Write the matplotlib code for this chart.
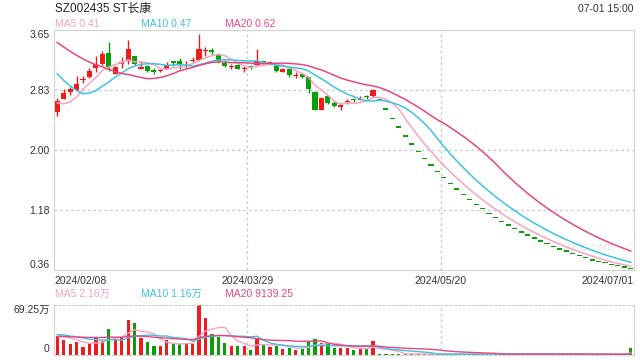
import pandas as pd
import matplotlib
matplotlib.use('Agg')
import matplotlib.pyplot as plt

plt.rcParams['font.family'] = ['Liberation Sans', 'Noto Sans CJK SC', 'DejaVu Sans']

title = 'SZ002435 ST长康'
stamp = '07-01 15:00'
date_labels = ['2024/02/08', '2024/03/29', '2024/05/20', '2024/07/01']
price_ticks = [3.65, 2.83, 2.00, 1.18, 0.36]
price_legend = ['MA5 0.41', 'MA10 0.47', 'MA20 0.62']
vol_legend = ['MA5 2.16万', 'MA10 1.16万', 'MA20 9139.25']
vol_top_label = '69.25万'

# closes of the 19 sessions before the window (only used to seed the MAs)
prior_close = [4.05, 4.02, 4.00, 3.98, 3.95, 3.92, 3.88, 3.85, 3.78, 3.67,
               3.70, 3.60, 3.52, 3.43, 3.00, 2.85, 2.71, 2.57, 2.45]
prior_vol = [18, 20, 22, 19, 21, 24, 20, 23, 25, 28,
             26, 30, 27, 29, 31, 28, 27, 30, 26]

# traded sessions (first 50 days)
opens = [2.52, 2.71, 2.80, 2.83, 2.96, 3.01, 3.13, 3.18, 3.34, 3.05,
         3.19, 3.22, 3.29, 3.12, 3.16, 3.09, 3.09, 3.12, 3.22, 3.23,
         3.15, 3.22, 3.24, 3.36, 3.38, 3.31, 3.20, 3.14, 3.17, 3.11,
         3.15, 3.17, 3.22, 3.20, 3.17, 3.08, 3.12, 3.02, 3.04, 3.00,
         2.80, 2.56, 2.74, 2.65, 2.60, 2.66, 2.70, 2.69, 2.74, 2.74]
highs = [2.72, 2.84, 2.87, 3.02, 3.02, 3.13, 3.30, 3.36, 3.49, 3.15,
         3.28, 3.51, 3.30, 3.23, 3.17, 3.13, 3.12, 3.21, 3.23, 3.27,
         3.23, 3.28, 3.59, 3.42, 3.40, 3.33, 3.24, 3.18, 3.19, 3.17,
         3.17, 3.39, 3.23, 3.23, 3.18, 3.13, 3.13, 3.08, 3.06, 3.01,
         2.81, 2.73, 2.75, 2.67, 2.65, 2.70, 2.71, 2.75, 2.76, 2.84]
lows = [2.47, 2.70, 2.76, 2.82, 2.93, 2.99, 3.08, 3.17, 3.09, 3.04,
        3.13, 3.18, 3.17, 3.11, 3.08, 3.04, 3.07, 3.11, 3.15, 3.12,
        3.13, 3.21, 3.23, 3.29, 3.31, 3.20, 3.14, 3.11, 3.11, 3.07,
        3.12, 3.15, 3.18, 3.17, 3.08, 3.07, 3.01, 2.99, 2.99, 2.78,
        2.56, 2.55, 2.64, 2.60, 2.55, 2.63, 2.66, 2.69, 2.71, 2.73]
closes = [2.67, 2.79, 2.84, 2.91, 2.97, 3.09, 3.19, 3.32, 3.14, 3.14,
          3.21, 3.39, 3.19, 3.13, 3.09, 3.08, 3.10, 3.17, 3.20, 3.18,
          3.16, 3.23, 3.39, 3.37, 3.35, 3.23, 3.15, 3.15, 3.12, 3.12,
          3.14, 3.23, 3.21, 3.21, 3.09, 3.12, 3.03, 3.03, 3.00, 2.84,
          2.56, 2.72, 2.65, 2.61, 2.61, 2.67, 2.69, 2.70, 2.73, 2.83]
# one-price limit-down sessions (open = high = low = close)
limit_down = [2.69, 2.56, 2.43, 2.31, 2.19, 2.08, 1.98, 1.88, 1.79, 1.70,
              1.62, 1.54, 1.46, 1.39, 1.32, 1.25, 1.19, 1.13, 1.07, 1.02,
              0.97, 0.92, 0.87, 0.83, 0.79, 0.75, 0.71, 0.67, 0.64, 0.61,
              0.58, 0.55, 0.52, 0.49, 0.47, 0.45, 0.43, 0.41, 0.39, 0.37]

# volume in 万 shares
volume = [25.7, 20.1, 14.5, 17.3, 10.3, 15.9, 22.5, 18.7, 36.0, 21.9,
          23.4, 48.6, 44.0, 23.4, 17.7, 12.1, 12.1, 20.5, 14.9, 14.1,
          14.5, 14.1, 69.25, 51.0, 28.9, 24.7, 16.3, 12.1, 12.1, 12.1,
          6.5, 23.4, 14.1, 10.7, 12.1, 7.9, 9.3, 6.5, 7.9, 17.3,
          21.9, 15.9, 14.9, 9.3, 9.3, 9.3, 6.5, 7.9, 7.9, 18.7,
          1.2, 0.9, 0.8, 0.9, 0.8, 0.9, 0.7, 0.4, 0.4, 0.5,
          0.4, 0.6, 0.4, 0.4, 0.5, 0.8, 0.9, 0.8, 0.9, 0.8,
          0.8, 0.9, 0.8, 0.5, 0.6, 0.5, 0.6, 0.8, 0.7, 0.48,
          0.16, 0.16, 0.16, 0.16, 0.16, 0.3, 0.3, 0.3, 0.3, 9.6]

RED = '#f01c1c'
GREEN = '#0a9f0a'
MA_COLORS = ['#f7a3c1', '#3cc4de', '#e8467f']
GRID = '#cccccc'
SPINE = '#d2d2d2'

o = opens + limit_down
h = highs + limit_down
l = lows + limit_down
c = closes + limit_down
n = len(c)
x = list(range(n))

prev = [prior_close[-1]] + c[:-1]
up = [(ci > oi) or (ci == oi and ci >= pi) for oi, ci, pi in zip(o, c, prev)]
colors = [RED if u else GREEN for u in up]

close_s = pd.Series(prior_close + c)
vol_s = pd.Series(prior_vol + volume)
k = len(prior_close)
ma_price = [close_s.rolling(w).mean().iloc[k:].values for w in (5, 10, 20)]
ma_vol = [vol_s.rolling(w).mean().iloc[k:].values for w in (5, 10, 20)]

fig = plt.figure(figsize=(6.4, 3.6), dpi=100)
W, H = 640, 360


def box(x0, y0, x1, y1):
    return [x0 / W, 1 - y1 / H, (x1 - x0) / W, (y1 - y0) / H]


ax = fig.add_axes(box(54, 30, 634, 270))
av = fig.add_axes(box(54, 305, 634, 354.5))

# candles (flat sessions get a thin body so they show as dashes)
bottoms = [min(oi, ci) for oi, ci in zip(o, c)]
heights = [max(abs(ci - oi), 0.018) for oi, ci in zip(o, c)]
ax.vlines(x, l, h, colors=colors, linewidth=1, zorder=2)
ax.bar(x, heights, bottom=bottoms, width=0.8, color=colors, linewidth=0, zorder=3)
for ma, col in zip(ma_price, MA_COLORS):
    ax.plot(x, ma, color=col, lw=1.1, zorder=4)

ax.set_xlim(-0.5, n - 0.5)
ax.set_ylim(price_ticks[-1], price_ticks[0])
ax.set_yticks(price_ticks)
ax.set_yticklabels([f'{t:.2f}' for t in price_ticks])
ylabs = ax.get_yticklabels()
ylabs[0].set_va('top')
ylabs[-1].set_va('bottom')
for t in price_ticks[1:-1]:
    ax.axhline(t, color=GRID, lw=1, ls=(0, (2, 2)), zorder=1)

# date labels sit at thirds of the axis width
xt = [-0.5, -0.5 + n / 3, -0.5 + 2 * n / 3, n - 0.5]
ax.set_xticks(xt)
ax.set_xticklabels(date_labels)
for lab, ha in zip(ax.get_xticklabels(), ['left', 'center', 'center', 'right']):
    lab.set_ha(ha)
for t in xt[1:3]:
    ax.axvline(t, color=GRID, lw=1, ls=(0, (2, 2)), zorder=1)
    av.axvline(t, color=GRID, lw=1, ls=(0, (2, 2)), zorder=1)

ax.tick_params(length=0, labelsize=7.5, labelcolor='#333333', pad=3)
ax.tick_params(axis='x', pad=4)
for sp in ax.spines.values():
    sp.set_color(SPINE)
ax.text(0.965, 0.09, 'sina.com', transform=ax.transAxes, ha='right', va='center',
        fontsize=8.5, color='#e6e6e6', zorder=0)

# volume
av.bar(x, volume, width=0.5, color=colors, linewidth=0, zorder=2)
for ma, col in zip(ma_vol, MA_COLORS):
    av.plot(x, ma, color=col, lw=1.0, zorder=3)
av.set_xlim(-0.5, n - 0.5)
av.set_ylim(0, max(volume))
av.set_xticks([])
av.set_yticks([0, max(volume)])
av.set_yticklabels(['0', vol_top_label])
vl = av.get_yticklabels()
vl[0].set_va('bottom')
vl[1].set_va('top')
av.tick_params(length=0, labelsize=7.5, labelcolor='#333333', pad=3)
for side in ('left', 'right'):
    av.spines[side].set_color(SPINE)
for side in ('top', 'bottom'):
    av.spines[side].set_color(GRID)
    av.spines[side].set_linestyle((0, (2, 2)))

# header texts
fig.text(55 / W, 1 - 9 / H, title, fontsize=8.5, color='#222222', va='center', ha='left')
fig.text(634 / W, 1 - 9 / H, stamp, fontsize=7.5, color='#333333', va='center', ha='right')
for label, col, px in zip(price_legend, MA_COLORS, [55, 141, 225]):
    fig.text(px / W, 1 - 24 / H, label, fontsize=7.5, color=col, va='center', ha='left')
for label, col, px in zip(vol_legend, MA_COLORS, [55, 141, 225]):
    fig.text(px / W, 1 - 294 / H, label, fontsize=7.5, color=col, va='center', ha='left')

fig.savefig('out.png', dpi=100)
